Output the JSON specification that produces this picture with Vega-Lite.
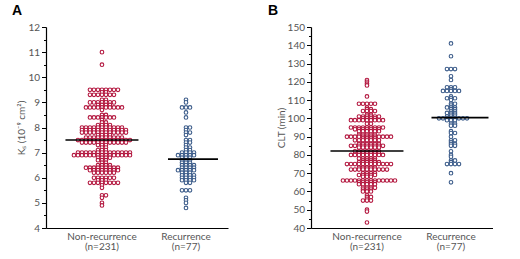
{
"$schema": "https://vega.github.io/schema/vega-lite/v6.json",
"background": "white",
"padding": {"left": 11, "top": 4, "right": 0, "bottom": 0},
"spacing": 40,
"config": {
  "view": {"stroke": null},
  "axis": {"grid": false, "labelColor": "#555", "titleColor": "#555", "domainColor": "#000", "tickColor": "#000", "labelFont": "Lato", "titleFont": "Lato", "titleFontWeight": "normal", "labelFontSize": 10, "titleFontSize": 10, "domainWidth": 1.2, "tickWidth": 1, "labelOverlap": false}
},
"datasets": {
"A": [
{"g":"N","v":11},{"g":"N","v":10.5},
{"g":"N","v":9.5},{"g":"N","v":9.5},{"g":"N","v":9.5},{"g":"N","v":9.5},{"g":"N","v":9.5},{"g":"N","v":9.5},{"g":"N","v":9.5},{"g":"N","v":9.5},
{"g":"N","v":9.4},{"g":"N","v":9.4},
{"g":"N","v":9.3},{"g":"N","v":9.3},{"g":"N","v":9.3},{"g":"N","v":9.3},{"g":"N","v":9.3},{"g":"N","v":9.3},{"g":"N","v":9.3},
{"g":"N","v":9.1},{"g":"N","v":9.1},
{"g":"N","v":9.0},{"g":"N","v":9.0},{"g":"N","v":9.0},{"g":"N","v":9.0},{"g":"N","v":9.0},{"g":"N","v":9.0},{"g":"N","v":9.0},
{"g":"N","v":8.9},{"g":"N","v":8.9},{"g":"N","v":8.9},{"g":"N","v":8.9},
{"g":"N","v":8.8},{"g":"N","v":8.8},{"g":"N","v":8.8},{"g":"N","v":8.8},{"g":"N","v":8.8},{"g":"N","v":8.8},{"g":"N","v":8.8},{"g":"N","v":8.8},{"g":"N","v":8.8},{"g":"N","v":8.8},
{"g":"N","v":8.7},
{"g":"N","v":8.5},{"g":"N","v":8.5},
{"g":"N","v":8.4},{"g":"N","v":8.4},{"g":"N","v":8.4},{"g":"N","v":8.4},{"g":"N","v":8.4},{"g":"N","v":8.4},{"g":"N","v":8.4},
{"g":"N","v":8.3},
{"g":"N","v":8.2},{"g":"N","v":8.2},
{"g":"N","v":8.1},{"g":"N","v":8.1},{"g":"N","v":8.1},{"g":"N","v":8.1},
{"g":"N","v":8.0},{"g":"N","v":8.0},{"g":"N","v":8.0},{"g":"N","v":8.0},{"g":"N","v":8.0},{"g":"N","v":8.0},{"g":"N","v":8.0},{"g":"N","v":8.0},{"g":"N","v":8.0},{"g":"N","v":8.0},{"g":"N","v":8.0},
{"g":"N","v":7.9},{"g":"N","v":7.9},{"g":"N","v":7.9},{"g":"N","v":7.9},{"g":"N","v":7.9},{"g":"N","v":7.9},{"g":"N","v":7.9},{"g":"N","v":7.9},{"g":"N","v":7.9},{"g":"N","v":7.9},{"g":"N","v":7.9},{"g":"N","v":7.9},
{"g":"N","v":7.8},{"g":"N","v":7.8},{"g":"N","v":7.8},{"g":"N","v":7.8},{"g":"N","v":7.8},{"g":"N","v":7.8},{"g":"N","v":7.8},{"g":"N","v":7.8},{"g":"N","v":7.8},{"g":"N","v":7.8},{"g":"N","v":7.8},{"g":"N","v":7.8},
{"g":"N","v":7.7},{"g":"N","v":7.7},{"g":"N","v":7.7},{"g":"N","v":7.7},
{"g":"N","v":7.6},{"g":"N","v":7.6},{"g":"N","v":7.6},{"g":"N","v":7.6},{"g":"N","v":7.6},{"g":"N","v":7.6},{"g":"N","v":7.6},{"g":"N","v":7.6},{"g":"N","v":7.6},{"g":"N","v":7.6},
{"g":"N","v":7.5},{"g":"N","v":7.5},{"g":"N","v":7.5},{"g":"N","v":7.5},{"g":"N","v":7.5},{"g":"N","v":7.5},{"g":"N","v":7.5},{"g":"N","v":7.5},{"g":"N","v":7.5},{"g":"N","v":7.5},{"g":"N","v":7.5},{"g":"N","v":7.5},{"g":"N","v":7.5},{"g":"N","v":7.5},
{"g":"N","v":7.4},{"g":"N","v":7.4},{"g":"N","v":7.4},{"g":"N","v":7.4},{"g":"N","v":7.4},{"g":"N","v":7.4},{"g":"N","v":7.4},{"g":"N","v":7.4},{"g":"N","v":7.4},{"g":"N","v":7.4},{"g":"N","v":7.4},{"g":"N","v":7.4},
{"g":"N","v":7.3},{"g":"N","v":7.3},{"g":"N","v":7.3},
{"g":"N","v":7.2},{"g":"N","v":7.2},
{"g":"N","v":7.1},{"g":"N","v":7.1},{"g":"N","v":7.1},
{"g":"N","v":7.0},{"g":"N","v":7.0},{"g":"N","v":7.0},{"g":"N","v":7.0},{"g":"N","v":7.0},{"g":"N","v":7.0},{"g":"N","v":7.0},{"g":"N","v":7.0},{"g":"N","v":7.0},{"g":"N","v":7.0},{"g":"N","v":7.0},{"g":"N","v":7.0},{"g":"N","v":7.0},{"g":"N","v":7.0},
{"g":"N","v":6.9},{"g":"N","v":6.9},{"g":"N","v":6.9},{"g":"N","v":6.9},{"g":"N","v":6.9},{"g":"N","v":6.9},{"g":"N","v":6.9},{"g":"N","v":6.9},{"g":"N","v":6.9},{"g":"N","v":6.9},{"g":"N","v":6.9},{"g":"N","v":6.9},{"g":"N","v":6.9},{"g":"N","v":6.9},{"g":"N","v":6.9},
{"g":"N","v":6.8},{"g":"N","v":6.8},{"g":"N","v":6.8},{"g":"N","v":6.8},
{"g":"N","v":6.7},{"g":"N","v":6.7},{"g":"N","v":6.7},
{"g":"N","v":6.6},{"g":"N","v":6.6},
{"g":"N","v":6.5},{"g":"N","v":6.5},{"g":"N","v":6.5},{"g":"N","v":6.5},
{"g":"N","v":6.4},{"g":"N","v":6.4},{"g":"N","v":6.4},{"g":"N","v":6.4},{"g":"N","v":6.4},{"g":"N","v":6.4},{"g":"N","v":6.4},{"g":"N","v":6.4},{"g":"N","v":6.4},
{"g":"N","v":6.3},{"g":"N","v":6.3},{"g":"N","v":6.3},{"g":"N","v":6.3},{"g":"N","v":6.3},{"g":"N","v":6.3},{"g":"N","v":6.3},{"g":"N","v":6.3},
{"g":"N","v":6.2},{"g":"N","v":6.2},{"g":"N","v":6.2},{"g":"N","v":6.2},{"g":"N","v":6.2},{"g":"N","v":6.2},
{"g":"N","v":6.0},{"g":"N","v":6.0},{"g":"N","v":6.0},{"g":"N","v":6.0},{"g":"N","v":6.0},{"g":"N","v":6.0},
{"g":"N","v":5.9},{"g":"N","v":5.9},{"g":"N","v":5.9},
{"g":"N","v":5.8},{"g":"N","v":5.8},{"g":"N","v":5.8},{"g":"N","v":5.8},{"g":"N","v":5.8},{"g":"N","v":5.8},{"g":"N","v":5.8},{"g":"N","v":5.8},
{"g":"N","v":5.7},{"g":"N","v":5.6},
{"g":"N","v":5.3},{"g":"N","v":5.3},
{"g":"N","v":5.2},{"g":"N","v":5.0},{"g":"N","v":4.9},
{"g":"R","v":9.1},{"g":"R","v":9.0},
{"g":"R","v":8.8},{"g":"R","v":8.8},{"g":"R","v":8.8},
{"g":"R","v":8.6},{"g":"R","v":8.4},
{"g":"R","v":8.0},{"g":"R","v":8.0},
{"g":"R","v":7.9},
{"g":"R","v":7.8},{"g":"R","v":7.8},
{"g":"R","v":7.7},
{"g":"R","v":7.5},{"g":"R","v":7.5},
{"g":"R","v":7.4},{"g":"R","v":7.4},
{"g":"R","v":7.3},
{"g":"R","v":7.2},{"g":"R","v":7.2},
{"g":"R","v":7.1},{"g":"R","v":7.1},
{"g":"R","v":7.0},{"g":"R","v":7.0},{"g":"R","v":7.0},{"g":"R","v":7.0},
{"g":"R","v":6.9},{"g":"R","v":6.9},{"g":"R","v":6.9},{"g":"R","v":6.9},{"g":"R","v":6.9},
{"g":"R","v":6.8},{"g":"R","v":6.8},{"g":"R","v":6.8},
{"g":"R","v":6.7},{"g":"R","v":6.7},{"g":"R","v":6.7},
{"g":"R","v":6.6},{"g":"R","v":6.6},{"g":"R","v":6.6},
{"g":"R","v":6.5},{"g":"R","v":6.5},{"g":"R","v":6.5},{"g":"R","v":6.5},
{"g":"R","v":6.4},{"g":"R","v":6.4},{"g":"R","v":6.4},{"g":"R","v":6.4},
{"g":"R","v":6.3},{"g":"R","v":6.3},{"g":"R","v":6.3},{"g":"R","v":6.3},{"g":"R","v":6.3},
{"g":"R","v":6.2},{"g":"R","v":6.2},{"g":"R","v":6.2},
{"g":"R","v":6.1},{"g":"R","v":6.1},{"g":"R","v":6.1},{"g":"R","v":6.1},
{"g":"R","v":6.0},{"g":"R","v":6.0},{"g":"R","v":6.0},{"g":"R","v":6.0},
{"g":"R","v":5.9},{"g":"R","v":5.9},{"g":"R","v":5.9},{"g":"R","v":5.9},
{"g":"R","v":5.8},{"g":"R","v":5.8},
{"g":"R","v":5.5},{"g":"R","v":5.5},{"g":"R","v":5.5},
{"g":"R","v":5.2},{"g":"R","v":5.1},{"g":"R","v":5.0},{"g":"R","v":4.8}
],
"B": [
{"g":"N","v":121},{"g":"N","v":120},{"g":"N","v":119},{"g":"N","v":118},{"g":"N","v":112},
{"g":"N","v":108},{"g":"N","v":108},{"g":"N","v":108},{"g":"N","v":108},{"g":"N","v":108},
{"g":"N","v":106},
{"g":"N","v":105},{"g":"N","v":105},
{"g":"N","v":104},{"g":"N","v":104},{"g":"N","v":104},{"g":"N","v":104},
{"g":"N","v":102},{"g":"N","v":102},
{"g":"N","v":101},{"g":"N","v":101},{"g":"N","v":101},{"g":"N","v":101},{"g":"N","v":101},{"g":"N","v":101},
{"g":"N","v":100},{"g":"N","v":100},{"g":"N","v":100},{"g":"N","v":100},
{"g":"N","v":99},{"g":"N","v":99},{"g":"N","v":99},{"g":"N","v":99},{"g":"N","v":99},{"g":"N","v":99},{"g":"N","v":99},{"g":"N","v":99},{"g":"N","v":99},
{"g":"N","v":97},{"g":"N","v":97},
{"g":"N","v":95},{"g":"N","v":95},{"g":"N","v":95},{"g":"N","v":95},{"g":"N","v":95},{"g":"N","v":95},{"g":"N","v":95},{"g":"N","v":95},{"g":"N","v":95},
{"g":"N","v":94},{"g":"N","v":94},{"g":"N","v":94},{"g":"N","v":94},{"g":"N","v":94},{"g":"N","v":94},{"g":"N","v":94},
{"g":"N","v":93},{"g":"N","v":93},{"g":"N","v":93},{"g":"N","v":93},{"g":"N","v":93},{"g":"N","v":93},
{"g":"N","v":91},{"g":"N","v":91},{"g":"N","v":91},{"g":"N","v":91},{"g":"N","v":91},
{"g":"N","v":90},{"g":"N","v":90},{"g":"N","v":90},{"g":"N","v":90},{"g":"N","v":90},{"g":"N","v":90},{"g":"N","v":90},{"g":"N","v":90},{"g":"N","v":90},{"g":"N","v":90},{"g":"N","v":90},{"g":"N","v":90},
{"g":"N","v":89},{"g":"N","v":89},{"g":"N","v":89},{"g":"N","v":89},
{"g":"N","v":88},{"g":"N","v":88},{"g":"N","v":88},{"g":"N","v":88},{"g":"N","v":88},{"g":"N","v":88},{"g":"N","v":88},
{"g":"N","v":86},{"g":"N","v":86},{"g":"N","v":86},{"g":"N","v":86},{"g":"N","v":86},{"g":"N","v":86},
{"g":"N","v":85},{"g":"N","v":85},{"g":"N","v":85},{"g":"N","v":85},{"g":"N","v":85},{"g":"N","v":85},{"g":"N","v":85},{"g":"N","v":85},{"g":"N","v":85},
{"g":"N","v":84},{"g":"N","v":84},{"g":"N","v":84},{"g":"N","v":84},{"g":"N","v":84},{"g":"N","v":84},
{"g":"N","v":82},{"g":"N","v":82},{"g":"N","v":82},{"g":"N","v":82},{"g":"N","v":82},{"g":"N","v":82},{"g":"N","v":82},
{"g":"N","v":81},{"g":"N","v":81},{"g":"N","v":81},{"g":"N","v":81},{"g":"N","v":81},{"g":"N","v":81},
{"g":"N","v":80},{"g":"N","v":80},{"g":"N","v":80},{"g":"N","v":80},{"g":"N","v":80},{"g":"N","v":80},{"g":"N","v":80},{"g":"N","v":80},{"g":"N","v":80},
{"g":"N","v":78},{"g":"N","v":78},{"g":"N","v":78},{"g":"N","v":78},{"g":"N","v":78},
{"g":"N","v":77},{"g":"N","v":77},{"g":"N","v":77},{"g":"N","v":77},
{"g":"N","v":76},{"g":"N","v":76},{"g":"N","v":76},{"g":"N","v":76},{"g":"N","v":76},{"g":"N","v":76},
{"g":"N","v":75},{"g":"N","v":75},{"g":"N","v":75},{"g":"N","v":75},{"g":"N","v":75},{"g":"N","v":75},{"g":"N","v":75},{"g":"N","v":75},{"g":"N","v":75},{"g":"N","v":75},{"g":"N","v":75},{"g":"N","v":75},
{"g":"N","v":73},{"g":"N","v":73},{"g":"N","v":73},{"g":"N","v":73},{"g":"N","v":73},
{"g":"N","v":72},{"g":"N","v":72},{"g":"N","v":72},{"g":"N","v":72},{"g":"N","v":72},{"g":"N","v":72},{"g":"N","v":72},{"g":"N","v":72},{"g":"N","v":72},{"g":"N","v":72},
{"g":"N","v":70},{"g":"N","v":70},{"g":"N","v":70},{"g":"N","v":70},
{"g":"N","v":69},{"g":"N","v":69},{"g":"N","v":69},{"g":"N","v":69},{"g":"N","v":69},
{"g":"N","v":68},{"g":"N","v":68},{"g":"N","v":68},
{"g":"N","v":66},{"g":"N","v":66},{"g":"N","v":66},{"g":"N","v":66},{"g":"N","v":66},{"g":"N","v":66},{"g":"N","v":66},{"g":"N","v":66},{"g":"N","v":66},{"g":"N","v":66},{"g":"N","v":66},{"g":"N","v":66},{"g":"N","v":66},{"g":"N","v":66},
{"g":"N","v":65},{"g":"N","v":65},{"g":"N","v":65},{"g":"N","v":65},{"g":"N","v":65},
{"g":"N","v":64},{"g":"N","v":64},{"g":"N","v":64},{"g":"N","v":64},{"g":"N","v":64},
{"g":"N","v":62},{"g":"N","v":62},{"g":"N","v":62},{"g":"N","v":62},
{"g":"N","v":61},{"g":"N","v":61},{"g":"N","v":61},
{"g":"N","v":60},{"g":"N","v":60},{"g":"N","v":60},
{"g":"N","v":58},{"g":"N","v":57},{"g":"N","v":57},{"g":"N","v":56},
{"g":"N","v":55},{"g":"N","v":55},{"g":"N","v":55},
{"g":"N","v":50},{"g":"N","v":49},{"g":"N","v":43},
{"g":"R","v":141},{"g":"R","v":134},
{"g":"R","v":127},{"g":"R","v":127},{"g":"R","v":127},
{"g":"R","v":123},{"g":"R","v":121},
{"g":"R","v":117},{"g":"R","v":117},{"g":"R","v":117},
{"g":"R","v":116},
{"g":"R","v":115},{"g":"R","v":115},{"g":"R","v":115},{"g":"R","v":115},{"g":"R","v":115},
{"g":"R","v":112},
{"g":"R","v":111},{"g":"R","v":111},{"g":"R","v":111},
{"g":"R","v":110},
{"g":"R","v":108},{"g":"R","v":108},
{"g":"R","v":107},
{"g":"R","v":106},{"g":"R","v":106},{"g":"R","v":106},
{"g":"R","v":105},{"g":"R","v":105},
{"g":"R","v":104},{"g":"R","v":104},
{"g":"R","v":103},{"g":"R","v":103},{"g":"R","v":103},
{"g":"R","v":102},{"g":"R","v":102},
{"g":"R","v":101},{"g":"R","v":101},{"g":"R","v":101},
{"g":"R","v":100},{"g":"R","v":100},{"g":"R","v":100},{"g":"R","v":100},{"g":"R","v":100},{"g":"R","v":100},{"g":"R","v":100},{"g":"R","v":100},
{"g":"R","v":99},{"g":"R","v":99},{"g":"R","v":99},
{"g":"R","v":97},{"g":"R","v":97},
{"g":"R","v":96},{"g":"R","v":96},
{"g":"R","v":93},
{"g":"R","v":92},{"g":"R","v":92},
{"g":"R","v":90},
{"g":"R","v":88},{"g":"R","v":88},
{"g":"R","v":87},
{"g":"R","v":86},{"g":"R","v":86},
{"g":"R","v":85},{"g":"R","v":85},
{"g":"R","v":82},{"g":"R","v":80},{"g":"R","v":79},
{"g":"R","v":77},{"g":"R","v":77},
{"g":"R","v":76},
{"g":"R","v":75},{"g":"R","v":75},{"g":"R","v":75},{"g":"R","v":75},
{"g":"R","v":70},{"g":"R","v":65}
]
},
"hconcat": [
{
  "title": {"text": "A", "anchor": "start", "frame": "bounds", "font": "Liberation Sans", "fontSize": 14, "fontWeight": "bold", "color": "#000", "dx": -5, "offset": 4},
  "width": 182, "height": 201,
  "data": {"name": "A"},
  "encoding": {
    "x": {"field": "g", "type": "nominal", "scale": {"domain": ["N", "R"], "paddingInner": 0, "paddingOuter": 0.083, "align": 1},
      "axis": {"title": null, "ticks": false, "labelAngle": 0, "labelPadding": 3, "labelLineHeight": 10.5, "labelExpr": "datum.value == 'N' ? ['Non-recurrence', '(n=231)'] : ['Recurrence', '(n=77)']"}}
  },
  "layer": [
    {
      "transform": [{"window": [{"op": "row_number", "as": "rank"}], "groupby": ["g", "v"]}],
      "mark": {"type": "point", "shape": "circle", "filled": true, "fill": "white", "size": 13, "strokeWidth": 1.1, "opacity": 1},
      "encoding": {
        "y": {"field": "v", "type": "quantitative", "scale": {"domain": [4, 12], "nice": false, "zero": false},
          "axis": {"title": "Kₛ (10⁻⁹ cm²)", "values": [4,4.5,5,5.5,6,6.5,7,7.5,8,8.5,9,9.5,10,10.5,11,11.5,12], "format": ".0f", "labelOverlap": false, "labelExpr": "datum.value % 1 === 0 ? datum.label : ''", "tickSize": {"condition": {"test": "datum.value % 1 !== 0", "value": 2.5}, "value": 4.5}, "titlePadding": 1}},
        "xOffset": {"field": "rank", "type": "nominal", "scale": {"domain": [21,19,17,15,13,11,9,7,5,3,1,2,4,6,8,10,12,14,16,18,20]}},
        "stroke": {"field": "g", "type": "nominal", "scale": {"domain": ["N", "R"], "range": ["#b3173f", "#3c5c8a"]}, "legend": null}
      }
    },
    {
      "transform": [{"filter": "datum.g == 'N'"}],
      "mark": {"type": "tick", "size": 73, "thickness": 1.6, "color": "#000"},
      "encoding": {"y": {"aggregate": "mean", "field": "v", "type": "quantitative", "title": "Kₛ (10⁻⁹ cm²)",
          "axis": {"title": "Kₛ (10⁻⁹ cm²)", "values": [4,4.5,5,5.5,6,6.5,7,7.5,8,8.5,9,9.5,10,10.5,11,11.5,12], "format": ".0f", "labelOverlap": false, "labelExpr": "datum.value % 1 === 0 ? datum.label : ''", "tickSize": {"condition": {"test": "datum.value % 1 !== 0", "value": 2.5}, "value": 4.5}, "titlePadding": 1}}}
    },
    {
      "transform": [{"filter": "datum.g == 'R'"}],
      "mark": {"type": "tick", "size": 50, "thickness": 1.6, "color": "#000", "xOffset": 7},
      "encoding": {"y": {"aggregate": "mean", "field": "v", "type": "quantitative", "title": "Kₛ (10⁻⁹ cm²)",
          "axis": {"title": "Kₛ (10⁻⁹ cm²)", "values": [4,4.5,5,5.5,6,6.5,7,7.5,8,8.5,9,9.5,10,10.5,11,11.5,12], "format": ".0f", "labelOverlap": false, "labelExpr": "datum.value % 1 === 0 ? datum.label : ''", "tickSize": {"condition": {"test": "datum.value % 1 !== 0", "value": 2.5}, "value": 4.5}, "titlePadding": 1}}}
    }
  ]
},
{
  "title": {"text": "B", "anchor": "start", "frame": "bounds", "font": "Liberation Sans", "fontSize": 14, "fontWeight": "bold", "color": "#000", "dx": -8, "offset": 4},
  "width": 182, "height": 201,
  "data": {"name": "B"},
  "encoding": {
    "x": {"field": "g", "type": "nominal", "scale": {"domain": ["N", "R"], "paddingInner": 0, "paddingOuter": 0.083, "align": 1},
      "axis": {"title": null, "ticks": false, "labelAngle": 0, "labelPadding": 3, "labelLineHeight": 10.5, "labelExpr": "datum.value == 'N' ? ['Non-recurrence', '(n=231)'] : ['Recurrence', '(n=77)']"}}
  },
  "layer": [
    {
      "transform": [{"window": [{"op": "row_number", "as": "rank"}], "groupby": ["g", "v"]}],
      "mark": {"type": "point", "shape": "circle", "filled": true, "fill": "white", "size": 13, "strokeWidth": 1.1, "opacity": 1},
      "encoding": {
        "y": {"field": "v", "type": "quantitative", "scale": {"domain": [40, 150], "nice": false, "zero": false},
          "axis": {"title": "CLT (min)", "values": [40,45,50,55,60,65,70,75,80,85,90,95,100,105,110,115,120,125,130,135,140,145,150], "labelOverlap": false, "labelExpr": "datum.value % 10 === 0 ? datum.label : ''", "tickSize": {"condition": {"test": "datum.value % 10 !== 0", "value": 2.5}, "value": 4.5}, "titlePadding": 1}},
        "xOffset": {"field": "rank", "type": "nominal", "scale": {"domain": [21,19,17,15,13,11,9,7,5,3,1,2,4,6,8,10,12,14,16,18,20]}},
        "stroke": {"field": "g", "type": "nominal", "scale": {"domain": ["N", "R"], "range": ["#b3173f", "#3c5c8a"]}, "legend": null}
      }
    },
    {
      "transform": [{"filter": "datum.g == 'N'"}],
      "mark": {"type": "tick", "size": 73, "thickness": 1.6, "color": "#000"},
      "encoding": {"y": {"aggregate": "mean", "field": "v", "type": "quantitative", "title": "CLT (min)",
          "axis": {"title": "CLT (min)", "values": [40,45,50,55,60,65,70,75,80,85,90,95,100,105,110,115,120,125,130,135,140,145,150], "labelOverlap": false, "labelExpr": "datum.value % 10 === 0 ? datum.label : ''", "tickSize": {"condition": {"test": "datum.value % 10 !== 0", "value": 2.5}, "value": 4.5}, "titlePadding": 1}}}
    },
    {
      "transform": [{"filter": "datum.g == 'R'"}],
      "mark": {"type": "tick", "size": 57, "thickness": 1.6, "color": "#000", "xOffset": 9},
      "encoding": {"y": {"aggregate": "mean", "field": "v", "type": "quantitative", "title": "CLT (min)",
          "axis": {"title": "CLT (min)", "values": [40,45,50,55,60,65,70,75,80,85,90,95,100,105,110,115,120,125,130,135,140,145,150], "labelOverlap": false, "labelExpr": "datum.value % 10 === 0 ? datum.label : ''", "tickSize": {"condition": {"test": "datum.value % 10 !== 0", "value": 2.5}, "value": 4.5}, "titlePadding": 1}}}
    }
  ]
}
]
}
